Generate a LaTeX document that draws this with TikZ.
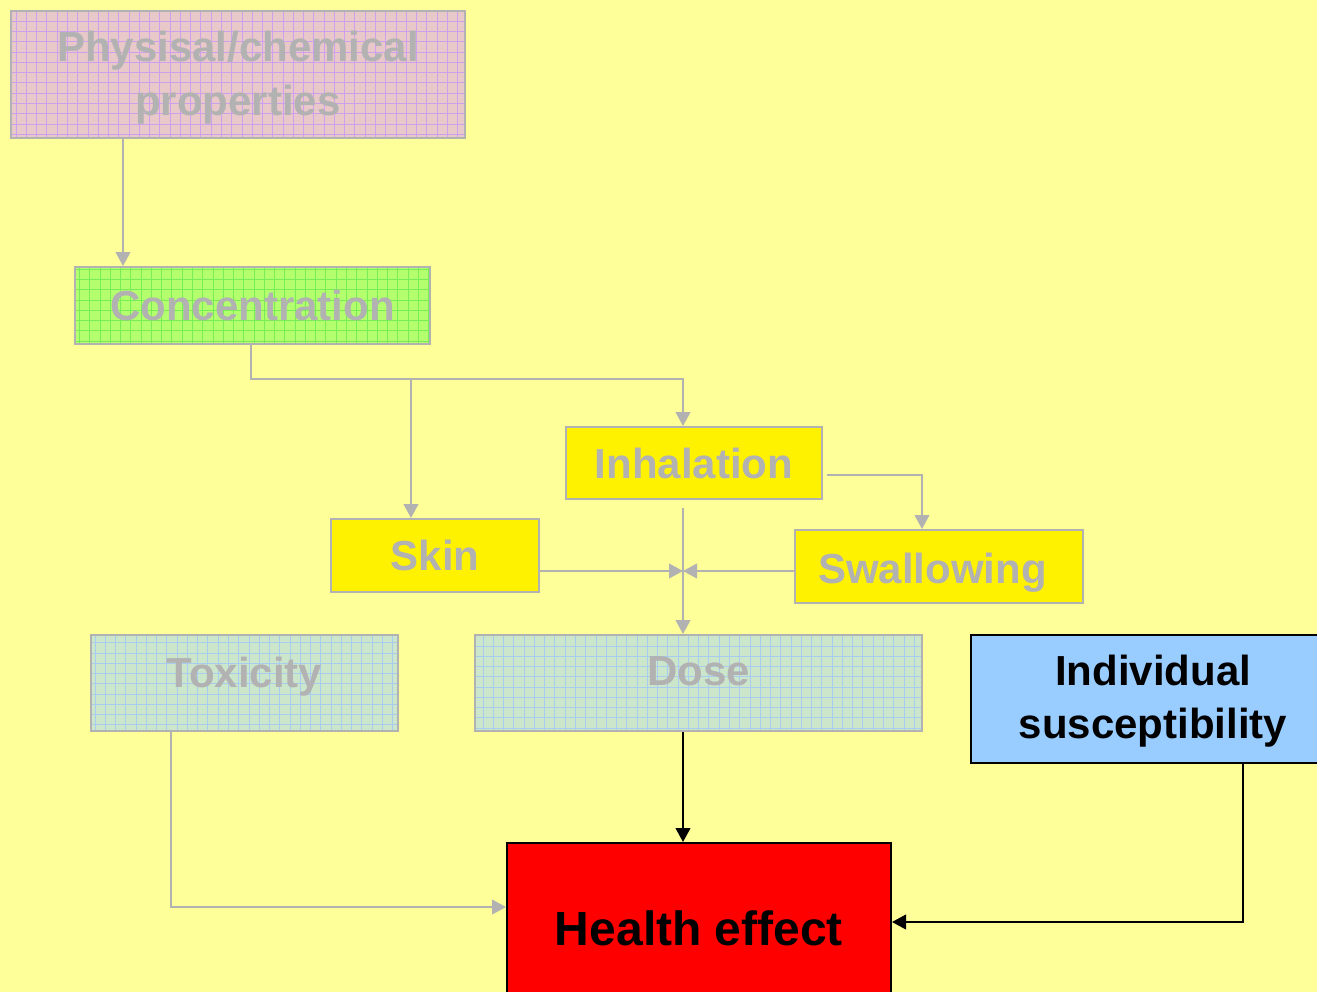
\documentclass[tikz,border=0pt]{standalone}
\usepackage{fontspec}
\setmainfont{Liberation Sans}
\usetikzlibrary{arrows.meta}
\definecolor{paper}{HTML}{FFFF99}
\definecolor{dim}{HTML}{B2B2B2}
\definecolor{pinkfill}{HTML}{E8C8C8}
\definecolor{pinkgrid}{HTML}{CCA0EE}
\definecolor{limefill}{HTML}{B4FF6E}
\definecolor{limegrid}{HTML}{77EE55}
\definecolor{seafill}{HTML}{CCE6CC}
\definecolor{seagrid}{HTML}{A8CCF0}
\definecolor{skyfill}{HTML}{99CCFF}
\newcommand{\lift}[2]{\raisebox{#1}[\height][\depth]{#2}}
\newcommand{\twolines}[2]{\begin{tabular}{@{}c@{}}#1\\#2\end{tabular}}
\begin{document}
\begin{tikzpicture}[x=0.75pt,y=-0.75pt,
		box/.style = {draw=dim, line width=1.5pt, inner sep=0pt, text=dim,
			font=\bfseries\fontsize{31.5}{40}\selectfont, align=center},
		gridded/.style = {fill=#1fill, path picture={
			\draw[#1grid, line width=0.45pt] (path picture bounding box.south west)
				grid[step=7.7pt] (path picture bounding box.north east);}},
		link/.style = {draw=dim, line width=1.5pt, -{Triangle[length=10.5pt,width=11pt]}},
		solidlink/.style = {link, draw=black}]
				\clip (0,0) rectangle (1317,992);
				\fill[paper] (0,0) rectangle (1317,992);

				\node[box, gridded=pink, minimum width=340.5pt, minimum height=95.25pt] (phys) at (238,74.5) {\lift{-2.5pt}{\twolines{Physisal/chemical}{properties}}};
				\node[box, gridded=lime, minimum width=266.25pt, minimum height=57.75pt] (conc) at (252.5,305.5) {Concentration};
				\node[box, fill=yellow, minimum width=192pt, minimum height=54pt] (inh) at (694,463) {Inhalation};
				\node[box, fill=yellow, minimum width=156pt, minimum height=54.75pt] (skin) at (435,555.5) {Skin};
				\node[box, fill=yellow, minimum width=216pt, minimum height=54.75pt] (swal) at (939,566.5) {\lift{-4.5pt}{Swallowing}\hspace{10pt}};
				\node[box, gridded=sea, minimum width=230.25pt, minimum height=72pt] (tox) at (244.5,683) {\lift{5pt}{Toxicity}};
				\node[box, gridded=sea, minimum width=335.25pt, minimum height=72pt] (dose) at (698.5,683) {\lift{8.5pt}{Dose}};
				\node[box, draw=black, text=black, fill=skyfill, minimum width=273pt, minimum height=96pt] (indiv) at (1153,699) {\lift{-1.5pt}{\twolines{Individual}{susceptibility}}};
				\node[box, draw=black, text=black, fill=red, font=\bfseries\fontsize{36}{43}\selectfont, minimum width=288pt, minimum height=127.5pt] (health) at (699,928) {Health effect};

				\coordinate (pcol) at (123,0);
				\coordinate (fork) at (411,379);
				\coordinate (merge) at (683,571);
				\coordinate (toxbend) at (171,907);
				\coordinate (indbend) at (1243,922);

				\draw[link] (pcol |- phys.south) -- (pcol |- conc.north);
				\draw[link] ([xshift=-1pt]conc.south) |- (fork) -| (merge |- inh.north);
				\draw[link] (fork) -- (fork |- skin.north);
				\draw[link] ([yshift=-9pt,xshift=3pt]inh.east) -| ([xshift=-12.75pt]swal.north);
				\draw[link, shorten <=6pt] (merge |- inh.south) -- (merge |- dose.north);
				\draw[link] (skin.east |- merge) -- (merge);
				\draw[link] (swal.west |- merge) -- (merge);
				\draw[link] (toxbend |- tox.south) -- (toxbend) -- (toxbend -| health.west);
				\draw[solidlink] (merge |- dose.south) -- (merge |- health.north);
				\draw[solidlink] (indbend |- indiv.south) -- (indbend) -- (indbend -| health.east);
\end{tikzpicture}
\end{document}
